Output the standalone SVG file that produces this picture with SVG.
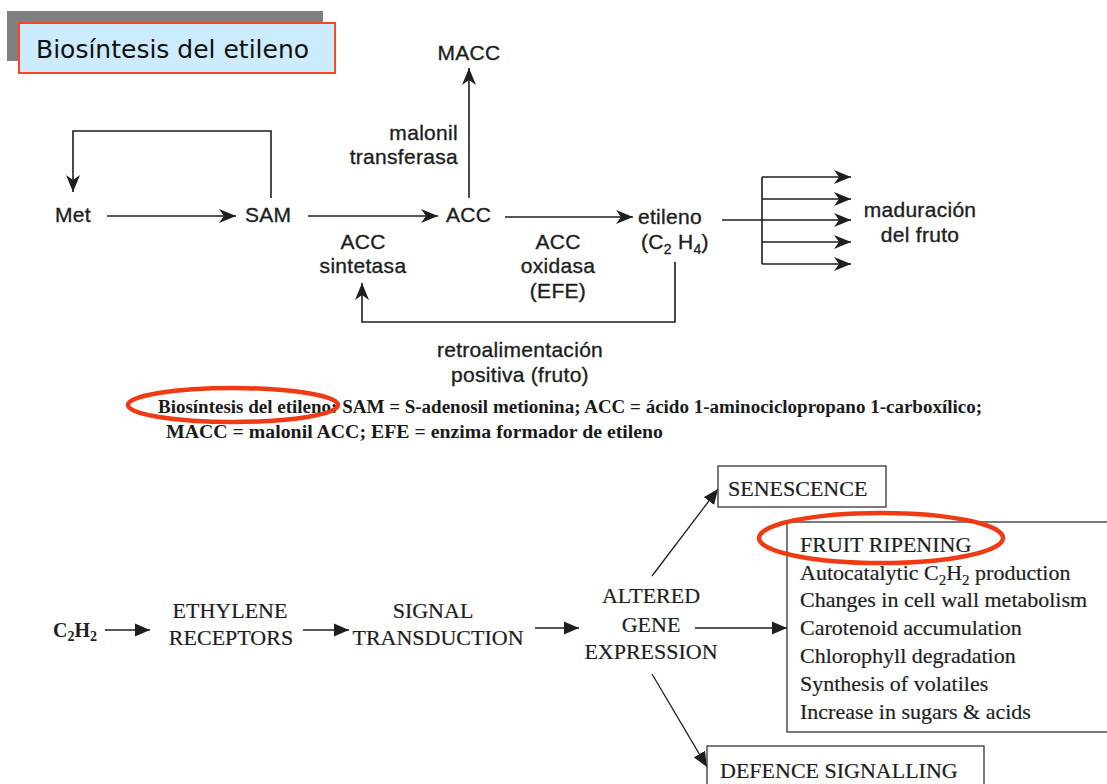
<svg xmlns="http://www.w3.org/2000/svg" width="1107" height="784" viewBox="0 0 1107 784">
<defs>
<style>
.top{font-family:"Liberation Sans",Arial,sans-serif;font-size:21px;fill:#1e1e1e;stroke:#1e1e1e;stroke-width:0.35;letter-spacing:0.3px}
.bot{font-family:"Liberation Serif","Times New Roman",serif;font-size:22px;fill:#1e1e1e;stroke:#1e1e1e;stroke-width:0.2}
.cap{font-family:"Liberation Serif","Times New Roman",serif;font-size:18.5px;font-weight:bold;fill:#1a1a1a}
.ln{fill:none;stroke:#1e1e1e;stroke-width:1.6}
.lb{fill:none;stroke:#1e1e1e;stroke-width:1.3}
.box{fill:#fff;stroke:#333;stroke-width:1.3}
.ring{fill:none;stroke:#F03A14;stroke-width:4.5}
</style>
<marker id="at" markerUnits="userSpaceOnUse" markerWidth="18" markerHeight="14" refX="17" refY="7" orient="auto">
<path d="M0,0 L17,7 L0,14 L5,7 Z" fill="#1e1e1e"/>
</marker>
<marker id="ab" markerUnits="userSpaceOnUse" markerWidth="16" markerHeight="14" refX="15" refY="7" orient="auto">
<path d="M0,0.5 L15,7 L0,13.5 Z" fill="#1e1e1e"/>
</marker>
</defs>
<rect width="1107" height="784" fill="#fff"/>

<g id="title">
<rect x="7" y="11" width="316" height="50" fill="#808080"/>
<rect x="19" y="23" width="316" height="50" fill="#CCEBFF" stroke="#FF4422" stroke-width="2"/>
<text x="36" y="58" style="font-family:'DejaVu Sans',sans-serif;font-size:25px;fill:#111">Biosíntesis del etileno</text>
</g>

<g id="connectors">
<line class="ln" x1="469" y1="198" x2="469" y2="68" marker-end="url(#at)"/>
<polyline class="ln" points="271,198 271,131 73,131 73,192" marker-end="url(#at)"/>
<line class="ln" x1="107" y1="216" x2="236" y2="216" marker-end="url(#at)"/>
<line class="ln" x1="308" y1="216" x2="438" y2="216" marker-end="url(#at)"/>
<line class="ln" x1="505" y1="217" x2="633" y2="217" marker-end="url(#at)"/>
<polyline class="ln" points="675,262 675,322 362,322 362,283" marker-end="url(#at)"/>
<line class="ln" x1="722" y1="220" x2="762" y2="220"/>
<line class="ln" x1="762" y1="177" x2="762" y2="264"/>
<line class="ln" x1="762" y1="177" x2="851" y2="177" marker-end="url(#at)"/>
<line class="ln" x1="762" y1="199" x2="851" y2="199" marker-end="url(#at)"/>
<line class="ln" x1="762" y1="220" x2="851" y2="220" marker-end="url(#at)"/>
<line class="ln" x1="762" y1="242" x2="851" y2="242" marker-end="url(#at)"/>
<line class="ln" x1="762" y1="264" x2="851" y2="264" marker-end="url(#at)"/>

<line class="lb" x1="105" y1="630" x2="150" y2="630" marker-end="url(#ab)"/>
<line class="lb" x1="303" y1="630" x2="349" y2="630" marker-end="url(#ab)"/>
<line class="lb" x1="535" y1="628" x2="579" y2="628" marker-end="url(#ab)"/>
<line class="lb" x1="695" y1="628" x2="787" y2="628" marker-end="url(#ab)"/>
<line class="lb" x1="652" y1="576" x2="718" y2="489" marker-end="url(#ab)"/>
<line class="lb" x1="652" y1="674" x2="707" y2="767" marker-end="url(#ab)"/>
</g>

<g id="macc"><text class="top" x="469" y="60" text-anchor="middle">MACC</text></g>
<g id="malonil-transferasa">
<text class="top" x="458" y="140" text-anchor="end">malonil</text>
<text class="top" x="458" y="164" text-anchor="end">transferasa</text>
</g>
<g id="met"><text class="top" x="55" y="222">Met</text></g>
<g id="sam"><text class="top" x="245" y="222">SAM</text></g>
<g id="acc"><text class="top" x="446" y="222">ACC</text></g>
<g id="etileno">
<text class="top" x="638" y="224">etileno</text>
<text class="top" x="641" y="249">(C<tspan font-size="14" dy="5">2</tspan><tspan dy="-5"> H</tspan><tspan font-size="14" dy="5">4</tspan><tspan dy="-5">)</tspan></text>
</g>
<g id="acc-sintetasa">
<text class="top" x="363" y="249" text-anchor="middle">ACC</text>
<text class="top" x="363" y="273" text-anchor="middle">sintetasa</text>
</g>
<g id="acc-oxidasa">
<text class="top" x="558" y="249" text-anchor="middle">ACC</text>
<text class="top" x="558" y="273" text-anchor="middle">oxidasa</text>
<text class="top" x="558" y="298" text-anchor="middle">(EFE)</text>
</g>
<g id="retroalimentacion">
<text class="top" x="520" y="357" text-anchor="middle">retroalimentación</text>
<text class="top" x="520" y="382" text-anchor="middle">positiva  (fruto)</text>
</g>
<g id="maduracion">
<text class="top" x="920" y="217" text-anchor="middle">maduración</text>
<text class="top" x="920" y="242" text-anchor="middle">del fruto</text>
</g>

<g id="caption">
<text class="cap" x="158" y="413" textLength="824" lengthAdjust="spacingAndGlyphs">Biosíntesis del etileno: SAM = S-adenosil metionina; ACC = ácido 1-aminociclopropano 1-carboxílico;</text>
<text class="cap" x="166" y="438" textLength="497" lengthAdjust="spacingAndGlyphs">MACC = malonil ACC; EFE = enzima formador de etileno</text>
<ellipse class="ring" cx="233" cy="405" rx="105" ry="17"/>
</g>

<g id="c2h2"><text x="53" y="637" style="font-family:'Liberation Serif',serif;font-size:20px;font-weight:bold;fill:#1e1e1e">C<tspan font-size="14" dy="4">2</tspan><tspan dy="-4">H</tspan><tspan font-size="14" dy="4">2</tspan></text></g>
<g id="ethylene-receptors">
<text class="bot" x="230" y="618" text-anchor="middle">ETHYLENE</text>
<text class="bot" x="231" y="645" text-anchor="middle">RECEPTORS</text>
</g>
<g id="signal-transduction">
<text class="bot" x="433" y="618" text-anchor="middle">SIGNAL</text>
<text class="bot" x="438" y="645" text-anchor="middle">TRANSDUCTION</text>
</g>
<g id="altered-gene-expression">
<text class="bot" x="651" y="603" text-anchor="middle">ALTERED</text>
<text class="bot" x="651" y="632" text-anchor="middle">GENE</text>
<text class="bot" x="651" y="659" text-anchor="middle">EXPRESSION</text>
</g>
<g id="senescence">
<rect class="box" x="718" y="466" width="168" height="41"/>
<text class="bot" x="728" y="496">SENESCENCE</text>
</g>
<g id="fruit-ripening">
<rect class="box" x="787" y="522" width="330" height="210"/>
<text class="bot" x="800" y="552">FRUIT RIPENING</text>
<text class="bot" x="800" y="580">Autocatalytic C<tspan font-size="15" dy="5">2</tspan><tspan dy="-5">H</tspan><tspan font-size="15" dy="5">2</tspan><tspan dy="-5"> production</tspan></text>
<text class="bot" x="800" y="607">Changes in cell wall metabolism</text>
<text class="bot" x="800" y="635">Carotenoid accumulation</text>
<text class="bot" x="800" y="663">Chlorophyll degradation</text>
<text class="bot" x="800" y="691">Synthesis of volatiles</text>
<text class="bot" x="800" y="719">Increase in sugars &amp; acids</text>
<ellipse class="ring" cx="881" cy="538" rx="122" ry="25"/>
</g>
<g id="defence-signalling">
<rect class="box" x="707" y="746" width="277" height="50"/>
<text class="bot" x="720" y="778">DEFENCE SIGNALLING</text>
</g>
</svg>
